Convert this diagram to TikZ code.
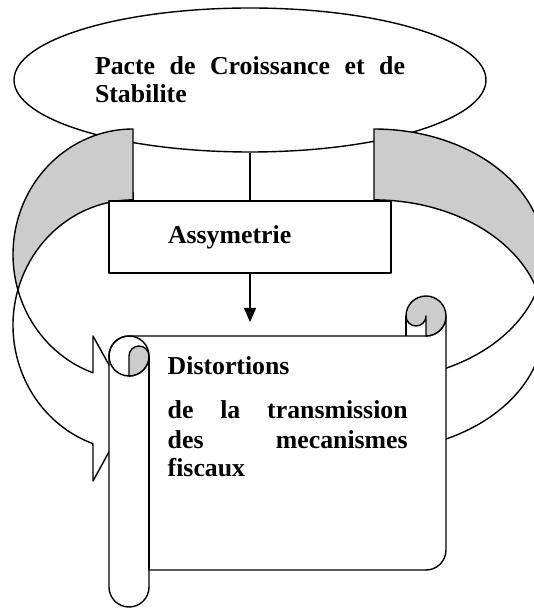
\documentclass[tikz,border=0pt]{standalone}
\usepackage{fontspec}
\setmainfont{Liberation Serif}
\usepackage{tikz}
\usetikzlibrary{
    shapes.geometric,
    arrows.meta,
    positioning
}
\tikzset{wbx/.style={draw, fill=white},
         gfl/.style={draw, fill=black!20},
         btxt/.style={font=\fontsize{25.8}{28}\selectfont\bfseries}}

\begin{document}
\begin{tikzpicture}[x=1pt, y=1pt, line width=1.4pt, line join=round]
    \useasboundingbox (0, 0) rectangle (534, 608);
    \clip (0, 0) rectangle (534, 608);
    % ellipse
    \node[draw, ellipse, inner sep=0pt, minimum width=472pt, minimum height=144pt, btxt] (pacte) at (250, 528)
        {\parbox{310pt}{\hbox to 310pt{Pacte\hfill de\hfill Croissance\hfill et\hfill de}Stabilite}};
    % left band
    \fill[black!20] (133, 479) arc[start angle=90, end angle=196.4, x radius=120, y radius=125.5]
        arc[start angle=163.6, end angle=90, x radius=120, y radius=125.5] -- cycle;
    \draw (133, 479) arc[start angle=90, end angle=196.4, x radius=120, y radius=125.5]
        arc[start angle=163.6, end angle=250.5, x radius=120, y radius=125.5]
        -- (93, 127) -- (133, 199.7) -- (93, 272) -- (93, 235.2)
        arc[start angle=250.5, end angle=196.4, x radius=120, y radius=125.5]
        arc[start angle=163.6, end angle=90, x radius=120, y radius=125.5] -- cycle;
    % right band
    \fill[black!20] (374, 479) arc[start angle=90, end angle=-16.4, x radius=170, y radius=125.5]
        arc[start angle=16.4, end angle=90, x radius=170, y radius=125.5] -- cycle;
    \draw (374, 479) arc[start angle=90, end angle=-16.4, x radius=170, y radius=125.5]
        arc[start angle=16.4, end angle=-76.4, x radius=170, y radius=125.5]
        -- (414, 124.5) -- (374, 196) -- (414, 267.5) -- (414, 231.5)
        arc[start angle=-76.4, end angle=-16.4, x radius=170, y radius=125.5]
        arc[start angle=16.4, end angle=90, x radius=170, y radius=125.5] -- cycle;
    % box
    \node[wbx, btxt, minimum height=72pt, text width=164pt, inner xsep=59pt, align=left] (asym) at (250, 371) {Assymetrie};
    \draw (pacte.south) -- (asym.north);
    % scroll
    \draw[fill=white] (129, 272) -- (426, 272) arc[start angle=-90, end angle=0, radius=20]
        -- (446, 58) arc[start angle=0, end angle=-90, radius=20] -- (149, 38) -- (149, 21)
        arc[start angle=0, end angle=-180, radius=20] -- (109, 252)
        arc[start angle=180, end angle=90, radius=20] -- cycle;
    \draw (149, 252) -- (149, 38);
    \draw (129, 252) circle[radius=20];
    \draw[gfl] (129, 252) arc[start angle=180, end angle=0, radius=10]
        arc[start angle=0, end angle=-90, radius=20] -- cycle;
    \draw[gfl] (406, 292) arc[start angle=180, end angle=-90, radius=20] -- (426, 292)
        arc[start angle=0, end angle=-180, radius=10] -- cycle;
    \draw (406, 292) -- (406, 272);
    \node[btxt, anchor=base west, text width=240pt, inner sep=0pt, align=left] (distort) at (167, 233)
        {\fontsize{25.8}{30}\selectfont Distortions\par\vspace{14pt}
         \hbox to 240pt{de\hfill la\hfill transmission}
         \hbox to 240pt{des\hfill mecanismes}
         fiscaux};
    % arrow
    \coordinate (atip) at (250, 286);
    \draw[-{Triangle[length=14pt, width=12pt]}] (asym.south) -- (atip);
\end{tikzpicture}
\end{document}
